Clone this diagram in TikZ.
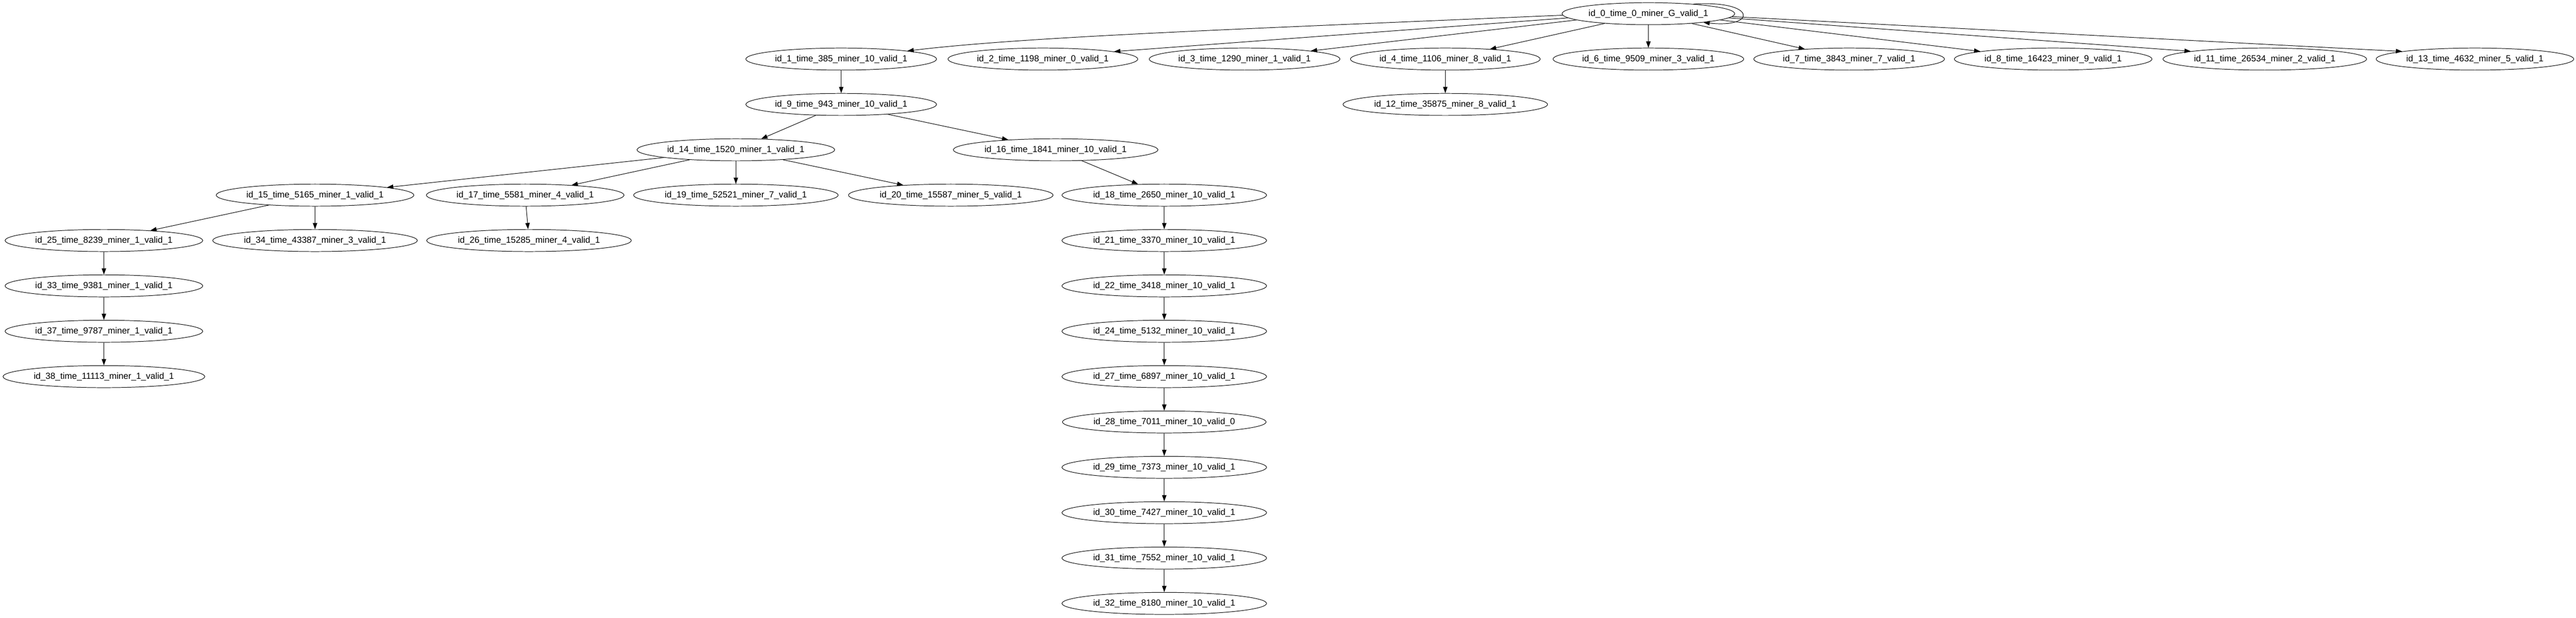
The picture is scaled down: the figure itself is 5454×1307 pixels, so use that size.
\documentclass[tikz,border=0pt]{standalone}
\usepackage{fontspec}
\setmainfont{Liberation Sans}
\usetikzlibrary{shapes.geometric,arrows.meta}

\begin{document}
\begin{tikzpicture}[x=0.75pt, y=0.75pt,
	blk/.style={ellipse, draw, line width=0.8pt, inner xsep=2pt, inner ysep=0pt, minimum height=35pt, font=\fontsize{14pt}{16pt}\selectfont},
	arr/.style={line width=0.8pt, -{Triangle[length=10pt,width=7pt]}}]
	\useasboundingbox (0,0) rectangle (5454,-1307);
	% genesis row
	\node[blk] (n0) at (3490,-29) {id\_0\_time\_0\_miner\_G\_valid\_1};
	\node[blk] (n1) at (1781,-125) {id\_1\_time\_385\_miner\_10\_valid\_1};
	\node[blk] (n2) at (2208,-125) {id\_2\_time\_1198\_miner\_0\_valid\_1};
	\node[blk] (n3) at (2635,-125) {id\_3\_time\_1290\_miner\_1\_valid\_1};
	\node[blk] (n4) at (3060,-125) {id\_4\_time\_1106\_miner\_8\_valid\_1};
	\node[blk] (n6) at (3490,-125) {id\_6\_time\_9509\_miner\_3\_valid\_1};
	\node[blk] (n7) at (3915,-125) {id\_7\_time\_3843\_miner\_7\_valid\_1};
	\node[blk] (n8) at (4347,-125) {id\_8\_time\_16423\_miner\_9\_valid\_1};
	\node[blk] (n11) at (4795,-125) {id\_11\_time\_26534\_miner\_2\_valid\_1};
	\node[blk] (n13) at (5240,-125) {id\_13\_time\_4632\_miner\_5\_valid\_1};
	\node[blk] (n9) at (1781,-221) {id\_9\_time\_943\_miner\_10\_valid\_1};
	\node[blk] (n12) at (3060,-221) {id\_12\_time\_35875\_miner\_8\_valid\_1};
	\node[blk] (n14) at (1558,-317) {id\_14\_time\_1520\_miner\_1\_valid\_1};
	\node[blk] (n16) at (2235,-317) {id\_16\_time\_1841\_miner\_10\_valid\_1};
	\node[blk] (n15) at (667,-413) {id\_15\_time\_5165\_miner\_1\_valid\_1};
	\node[blk] (n17) at (1112,-413) {id\_17\_time\_5581\_miner\_4\_valid\_1};
	\node[blk] (n19) at (1558,-413) {id\_19\_time\_52521\_miner\_7\_valid\_1};
	\node[blk] (n20) at (2013,-413) {id\_20\_time\_15587\_miner\_5\_valid\_1};
	\node[blk] (n18) at (2465,-413) {id\_18\_time\_2650\_miner\_10\_valid\_1};
	\node[blk] (n25) at (220,-509) {id\_25\_time\_8239\_miner\_1\_valid\_1};
	\node[blk] (n34) at (667,-509) {id\_34\_time\_43387\_miner\_3\_valid\_1};
	\node[blk] (n26) at (1120,-509) {id\_26\_time\_15285\_miner\_4\_valid\_1};
	\node[blk] (n21) at (2465,-509) {id\_21\_time\_3370\_miner\_10\_valid\_1};
	\node[blk] (n33) at (220,-605) {id\_33\_time\_9381\_miner\_1\_valid\_1};
	\node[blk] (n22) at (2465,-605) {id\_22\_time\_3418\_miner\_10\_valid\_1};
	\node[blk] (n37) at (220,-701) {id\_37\_time\_9787\_miner\_1\_valid\_1};
	\node[blk] (n24) at (2465,-701) {id\_24\_time\_5132\_miner\_10\_valid\_1};
	\node[blk] (n38) at (220,-797) {id\_38\_time\_11113\_miner\_1\_valid\_1};
	\node[blk] (n27) at (2465,-797) {id\_27\_time\_6897\_miner\_10\_valid\_1};
	\node[blk] (n28) at (2465,-893) {id\_28\_time\_7011\_miner\_10\_valid\_0};
	\node[blk] (n29) at (2465,-989) {id\_29\_time\_7373\_miner\_10\_valid\_1};
	\node[blk] (n30) at (2465,-1085) {id\_30\_time\_7427\_miner\_10\_valid\_1};
	\node[blk] (n31) at (2465,-1181) {id\_31\_time\_7552\_miner\_10\_valid\_1};
	\node[blk] (n32) at (2465,-1277) {id\_32\_time\_8180\_miner\_10\_valid\_1};
	% edges from the root
	\draw[arr] (n0.12) .. controls (3720,0) and (3720,-60) .. (n0.-9);
	\draw[arr] (n0.181) .. controls +(-700,-30) and +(250,30) .. (n1.7);
	\draw[arr] (n0.183) -- (n2.6);
	\draw[arr] (n0.185) -- (n3.7);
	\draw[arr] (n0) -- (n4);
	\draw[arr] (n0) -- (n6);
	\draw[arr] (n0) -- (n7);
	\draw[arr] (n0.-5) -- (n8.174);
	\draw[arr] (n0.-3) -- (n11.174);
	\draw[arr] (n0.-2) -- (n13.174);
	% the rest of the tree
	\draw[arr] (n1) -- (n9);
	\draw[arr] (n4) -- (n12);
	\draw[arr] (n9) -- (n14);
	\draw[arr] (n9) -- (n16);
	\draw[arr] (n14) -- (n15);
	\draw[arr] (n14) -- (n17);
	\draw[arr] (n14) -- (n19);
	\draw[arr] (n14) -- (n20);
	\draw[arr] (n16) -- (n18);
	\draw[arr] (n15) -- (n25);
	\draw[arr] (n15) -- (n34);
	\draw[arr] (n17) -- (n26);
	\draw[arr] (n25) -- (n33);
	\draw[arr] (n33) -- (n37);
	\draw[arr] (n37) -- (n38);
	\draw[arr] (n18) -- (n21);
	\draw[arr] (n21) -- (n22);
	\draw[arr] (n22) -- (n24);
	\draw[arr] (n24) -- (n27);
	\draw[arr] (n27) -- (n28);
	\draw[arr] (n28) -- (n29);
	\draw[arr] (n29) -- (n30);
	\draw[arr] (n30) -- (n31);
	\draw[arr] (n31) -- (n32);
\end{tikzpicture}
\end{document}
